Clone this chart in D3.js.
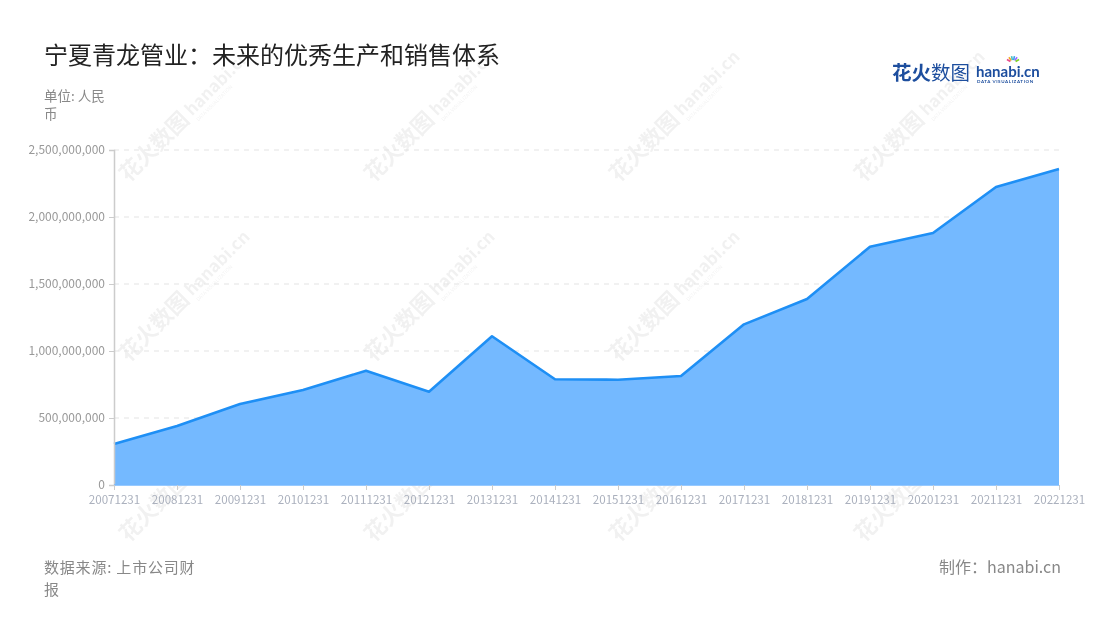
<!DOCTYPE html>
<html><head><meta charset="utf-8">
<script src="https://cdn.jsdelivr.net/npm/d3@7"></script>
<style>
html,body{margin:0;padding:0;background:#fff;}
svg{display:block;font-family:"Noto Sans CJK SC","Noto Sans",sans-serif;}
</style></head>
<body><svg id="c" width="1100" height="620"></svg>
<script>
const categories = ["20071231","20081231","20091231","20101231","20111231","20121231","20131231","20141231","20151231","20161231","20171231","20181231","20191231","20201231","20211231","20221231"];
const values = [306e6,440e6,604e6,709e6,853e6,696e6,1110e6,789e6,786e6,813e6,1199e6,1388e6,1778e6,1881e6,2224e6,2358e6];
const yTicks = [0,500e6,1000e6,1500e6,2000e6,2500e6];
const title = "宁夏青龙管业：未来的优秀生产和销售体系";
const unitLines = ["单位: 人民","币"];
const sourceLines = ["数据来源: 上市公司财","报"];
const credit = "制作：hanabi.cn";

const svg = d3.select("#c");
const pLeft = 114, pRight = 1059, pTop = 150, pBottom = 485;
const x = d3.scalePoint().domain(categories).range([pLeft, pRight]);
const y = d3.scaleLinear().domain([0, 2500e6]).range([pBottom, pTop]);

// watermarks
const wm = svg.append("g").attr("opacity", 0.055);
const wmX = [168, 413, 658, 903], wmY = [135, 315, 495];
wmX.forEach(cx => wmY.forEach(cy => {
  const g = wm.append("g").attr("transform", `translate(${cx},${cy}) rotate(-45)`);
  g.append("text").attr("x", -62).attr("y", 6).attr("font-size", 22).attr("font-weight", 700).attr("fill", "#000").text("花火数图");
  g.append("text").attr("x", 30).attr("y", 4).attr("font-size", 17).attr("font-weight", 700).attr("fill", "#000").text("hanabi.cn");
  g.append("text").attr("x", 31).attr("y", 12).attr("font-size", 5).attr("fill", "#000").text("DATA VISUALIZATION");
}));

// grid
svg.append("g").selectAll("line").data(yTicks.filter(d => d > 0)).join("line")
  .attr("x1", pLeft).attr("x2", pRight).attr("y1", d => y(d)).attr("y2", d => y(d))
  .attr("stroke", "#e3e3e3").attr("stroke-width", 1).attr("stroke-dasharray", "5,5");

// area + line
const area = d3.area().x((d, i) => x(categories[i])).y0(y(0)).y1(d => y(d));
const line = d3.line().x((d, i) => x(categories[i])).y(d => y(d));
svg.append("path").datum(values).attr("d", area).attr("fill", "#74b9ff");
svg.append("path").datum(values).attr("d", line).attr("fill", "none").attr("stroke", "#1e8ff5").attr("stroke-width", 2.6).attr("stroke-linejoin", "round");

// axes
const yAxis = d3.axisLeft(y).tickValues(yTicks).tickSize(5).tickPadding(4).tickFormat(d3.format(","));
const gy = svg.append("g").attr("transform", `translate(${pLeft},0)`).call(yAxis);
gy.select(".domain").attr("stroke", "#cccccc").attr("stroke-width", 1.5);
gy.selectAll(".tick line").attr("stroke", "#cccccc");
gy.selectAll(".tick text").attr("fill", "#999").attr("font-size", 12).attr("font-family", "'Noto Sans CJK SC', sans-serif");

const xAxis = d3.axisBottom(x).tickSize(5).tickPadding(6);
const gx = svg.append("g").attr("transform", `translate(0,${pBottom})`).call(xAxis);
gx.select(".domain").attr("stroke", "#74b9ff").attr("stroke-width", 1.5).attr("d", `M${pLeft},0H${pRight}`);
gx.selectAll(".tick line").attr("stroke", "#cccccc");
gx.selectAll(".tick text").attr("fill", "#aab0bd").attr("font-size", 11.6).attr("font-family", "'Noto Sans CJK SC', sans-serif");

// title
svg.append("text").attr("x", 44).attr("y", 64).attr("font-size", 24).attr("fill", "#222").text(title);
unitLines.forEach((t, i) => svg.append("text").attr("x", 44).attr("y", 101 + i * 18).attr("font-size", 13.5).attr("fill", "#888").text(t));
sourceLines.forEach((t, i) => svg.append("text").attr("x", 44).attr("y", 573 + i * 22).attr("font-size", 15).attr("letter-spacing", 0.8).attr("fill", "#888").text(t));
svg.append("text").attr("x", 1061).attr("y", 573).attr("text-anchor", "end").attr("font-size", 16).attr("fill", "#888").text(credit);

// logo
const lg = svg.append("g").attr("transform", "translate(892,80)");
lg.append("text").attr("x", 0).attr("y", 0).attr("font-size", 19.5).attr("font-weight", 700).attr("fill", "#1d4e9e").text("花火");
lg.append("text").attr("x", 39).attr("y", 0).attr("font-size", 19.5).attr("fill", "#1d4e9e").text("数图");
lg.append("text").attr("x", 84).attr("y", -3).attr("font-size", 15).attr("font-weight", 700).attr("fill", "#1d4e9e").attr("font-family", "Lato, sans-serif").text("hanabi.cn");
lg.append("text").attr("x", 85).attr("y", 3).attr("font-size", 4.5).attr("font-weight", 700).attr("letter-spacing", 0.6).attr("fill", "#1d4e9e").attr("font-family", "Lato, sans-serif").text("DATA VISUALIZATION");
const sparkColors = ["#e84d8a","#f6a623","#4bc0c0","#36a2eb","#9966ff","#7ed321"];
sparkColors.forEach((c, i) => {
  const a = -150 + i * 24;
  const r = Math.PI * a / 180;
  lg.append("line").attr("x1", 121 + Math.cos(r) * 3).attr("y1", -17 + Math.sin(r) * 3)
    .attr("x2", 121 + Math.cos(r) * 7).attr("y2", -17 + Math.sin(r) * 7)
    .attr("stroke", c).attr("stroke-width", 1.6);
});
</script></body></html>
